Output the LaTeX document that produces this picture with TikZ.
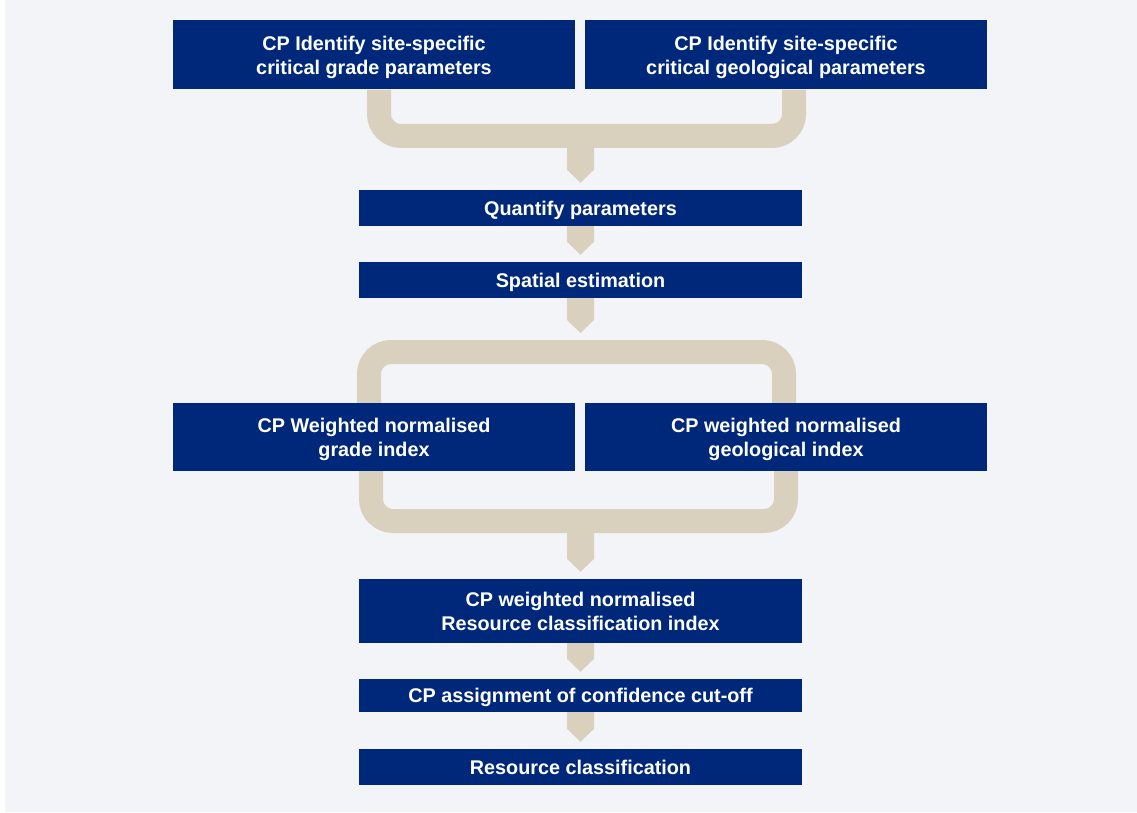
\documentclass[tikz,border=0pt]{standalone}
\usepackage{fontspec}
\setmainfont{Liberation Sans}
\usetikzlibrary{calc}

\definecolor{navy}{HTML}{00287A}
\definecolor{sand}{HTML}{D9D0BD}
\definecolor{paper}{HTML}{F2F4F8}

\tikzset{
	widebox/.style={fill=navy, text=white, font=\fontsize{19.8}{24}\selectfont\bfseries, align=center, inner sep=0pt, text depth=0pt, minimum width=402pt},
	stepbox/.style={widebox, minimum width=443pt},
	link/.style={draw=sand, line width=24pt, rounded corners=22pt}
}

% sand arrow running down from #1 to just above #2
\newcommand{\flowdown}[2]{%
	\fill[sand] ($(#1)+(-13.5,0)$) -- ($(#2)+(-13.5,-20)$) -- ($(#2)+(0,-7)$) -- ($(#2)+(13.5,-20)$) -- ($(#1)+(13.5,0)$) -- cycle;
}

\begin{document}
\begin{tikzpicture}[x=1pt,y=-1pt]
			\useasboundingbox (0,0) rectangle (1137,813);
			\fill[white] (0,0) rectangle (1137,813);
			\fill[paper] (5,0) rectangle (1137,812);

			\node[widebox, minimum height=69pt] (gradeA) at (374,55) {CP Identify site-specific\\critical grade parameters};
			\node[widebox, minimum height=69pt] (geoA) at (786,55) {CP Identify site-specific\\critical geological parameters};
			\node[stepbox, minimum height=36pt] (quant) at (580.5,208) {Quantify parameters};
			\node[stepbox, minimum height=36pt] (spatial) at (580.5,280) {Spatial estimation};
			\node[widebox, minimum height=68pt] (gradeB) at (374,437) {CP Weighted normalised\\grade index};
			\node[widebox, minimum height=68pt] (geoB) at (786,437) {CP weighted normalised\\geological index};
			\node[stepbox, minimum height=64pt] (index) at (580.5,611) {CP weighted normalised\\Resource classification index};
			\node[stepbox, minimum height=33pt] (cutoff) at (580.5,695.5) {CP assignment of confidence cut-off};
			\node[stepbox, minimum height=36pt] (classif) at (580.5,767) {Resource classification};

			\coordinate (merge) at (580.5,136);
			\coordinate (split) at (580.5,352);
			\coordinate (splittop) at (580.5,340);
			\coordinate (join) at (580.5,521);

			\draw[link] ([xshift=5pt]gradeA.south) |- (merge) -| ([xshift=8pt]geoA.south);
			\flowdown{merge}{quant.north}
			\flowdown{quant.south}{spatial.north}
			\flowdown{spatial.south}{splittop}
			\draw[link] ([xshift=-5pt]gradeB.north) |- (split) -| ([xshift=-2pt]geoB.north);
			\draw[link] ([xshift=-3pt]gradeB.south) |- (join) -| (geoB.south);
			\flowdown{join}{index.north}
			\flowdown{index.south}{cutoff.north}
			\flowdown{cutoff.south}{classif.north}
		\end{tikzpicture}
\end{document}
